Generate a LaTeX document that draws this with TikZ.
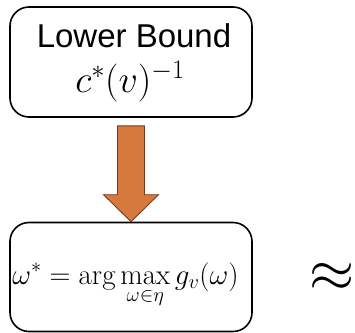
\RequirePackage{fix-cm}
\documentclass[tikz,border=0pt]{standalone}
\usepackage{amsmath,amssymb}
\usepackage{fontspec}
\newfontfamily\labelfont{Liberation Sans}
\usetikzlibrary{positioning,calc}

\definecolor{arrowfill}{RGB}{214,121,62}
\definecolor{arrowline}{RGB}{120,58,24}

\begin{document}
\begin{tikzpicture}[
        x=1pt, y=1pt,
        inner sep=0pt,
        roundbox/.style={draw, line width=1.6pt, rounded corners=19pt,
          minimum width=242pt, minimum height=110pt},
        fatarrow/.style={draw=arrowline, fill=arrowfill, line width=0.9pt, line join=miter}
      ]
      \useasboundingbox (0,0) rectangle (355,-332);
      \node (lb) [roundbox] at (131,-62) {};
      \node (lbname) [anchor=base,font=\labelfont\fontsize{33}{40}\selectfont] at (134,-47) {Lower Bound};
      \node (lbval) [anchor=base,font=\fontsize{38}{44}\selectfont] at (130,-92) {$c^*(v)^{-1}$};
      \node (opt) [roundbox, minimum height=109pt] at (131,-277) {};
      \node (optval) [anchor=base,font=\fontsize{29}{34}\selectfont] at (125.5,-284)
        {$\displaystyle \omega^* = \arg\max_{\omega\in\eta} g_v(\omega)$};
      \node (apx) [font=\fontsize{58}{62}\selectfont] at (332,-277) {$\approx$};
      % block arrow from the bound to the maximiser
      \coordinate (atop) at ([yshift=-8pt]lb.south);
      \coordinate (atip) at (opt.north);
      \draw[fatarrow] ($(atop)+(-13.5,0)$) -- ($(atop)+(13.5,0)$)
        -- ($(atip)+(13.5,27)$) -- ($(atip)+(27.5,27)$) -- (atip)
        -- ($(atip)+(-27.5,27)$) -- ($(atip)+(-13.5,27)$) -- cycle;
    \end{tikzpicture}
\end{document}
